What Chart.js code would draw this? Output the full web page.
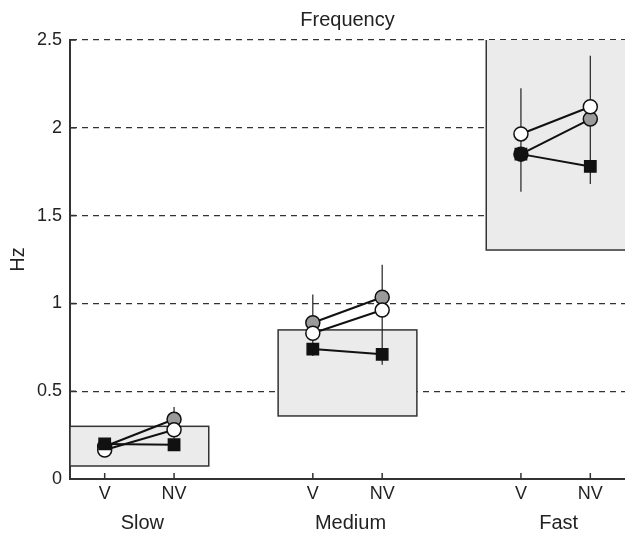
<!DOCTYPE html>
<html>
<head>
<meta charset="utf-8">
<script src="https://cdn.jsdelivr.net/npm/chart.js@4/dist/chart.umd.min.js"></script>
<style>
  html, body { margin: 0; padding: 0; background: #fff; }
  #wrap { width: 625px; height: 535px; }
</style>
</head>
<body>
<div id="wrap"><canvas id="chart"></canvas></div>
<script>
// condition positions on the x axis (V / NV inside each speed group)
const xPositions = [1, 2, 4, 5, 7, 8];
const xLabels = ['V', 'NV', 'V', 'NV', 'V', 'NV'];
const groupNames = ['Slow', 'Medium', 'Fast'];
const groupCenters = [1.5, 4.5, 7.5];
const yTicks = [0, 0.5, 1, 1.5, 2, 2.5];

// means for the three series
const greyValues = [0.185, 0.34, 0.89, 1.035, 1.85, 2.05];
const whiteValues = [0.165, 0.28, 0.83, 0.962, 1.965, 2.12];
const squareValues = [0.2, 0.195, 0.74, 0.71, 1.85, 1.78];

// error bar ends
const greyLow = [0.17, 0.27, 0.73, 0.85, 1.70, 1.69];
const greyHigh = [0.20, 0.41, 1.05, 1.22, 2.00, 2.41];
const whiteLow = [0.15, 0.23, 0.71, 0.76, 1.70, 1.87];
const whiteHigh = [0.18, 0.33, 0.95, 1.16, 2.225, 2.37];
const squareLow = [0.18, 0.17, 0.70, 0.65, 1.636, 1.68];
const squareHigh = [0.22, 0.22, 0.78, 0.77, 2.06, 1.88];

// grey background boxes (one per speed group)
const boxStart = [0.5, 3.5, 6.5];
const boxEnd = [2.5, 5.5, 8.8];
const boxLow = [0.074, 0.359, 1.304];
const boxHigh = [0.30, 0.849, 2.8];

const FONT = '"Liberation Sans", Arial, Helvetica, sans-serif';

// insert a null point between groups so lines only join V -> NV
function withGaps(values) {
    const pts = [];
    values.forEach((v, i) => {
        pts.push({ x: xPositions[i], y: v });
        if (i % 2 === 1 && i < values.length - 1) pts.push({ x: xPositions[i] + 1, y: null });
    });
    return pts;
}

const backdrop = {
    id: 'backdrop',
    beforeDatasetsDraw(chart) {
        const { ctx, chartArea: a, scales: { x, y } } = chart;
        ctx.save();
        ctx.beginPath();
        ctx.rect(a.left - 1, a.top, a.right - a.left + 1, a.bottom - a.top);
        ctx.clip();
        // boxes
        boxStart.forEach((s, i) => {
            const x0 = x.getPixelForValue(s), x1 = x.getPixelForValue(boxEnd[i]);
            const y0 = y.getPixelForValue(boxHigh[i]), y1 = y.getPixelForValue(boxLow[i]);
            ctx.fillStyle = '#ebebeb';
            ctx.fillRect(x0, y0, x1 - x0, y1 - y0);
            ctx.strokeStyle = '#333';
            ctx.lineWidth = 1.5;
            ctx.strokeRect(x0, y0, x1 - x0, y1 - y0);
        });
        ctx.restore();

        // inward tick marks
        ctx.save();
        ctx.strokeStyle = '#333';
        ctx.lineWidth = 1.5;
        ctx.beginPath();
        yTicks.forEach(t => {
            const py = y.getPixelForValue(t);
            ctx.moveTo(a.left, py);
            ctx.lineTo(a.left + 6, py);
        });
        xPositions.forEach(p => {
            const px = x.getPixelForValue(p);
            ctx.moveTo(px, a.bottom);
            ctx.lineTo(px, a.bottom - 6);
        });
        ctx.stroke();

        // error bars
        ctx.strokeStyle = '#222';
        ctx.lineWidth = 1.2;
        ctx.beginPath();
        [[greyLow, greyHigh], [whiteLow, whiteHigh], [squareLow, squareHigh]].forEach(([lo, hi]) => {
            xPositions.forEach((p, i) => {
                const px = x.getPixelForValue(p);
                ctx.moveTo(px, y.getPixelForValue(lo[i]));
                ctx.lineTo(px, y.getPixelForValue(hi[i]));
            });
        });
        ctx.stroke();
        ctx.restore();
    },
    afterDraw(chart) {
        const { ctx, chartArea: a, scales: { x } } = chart;
        ctx.save();
        ctx.fillStyle = '#222';
        ctx.textAlign = 'center';
        ctx.textBaseline = 'middle';
        ctx.font = '20px ' + FONT;
        ctx.fillText('Frequency', (a.left + a.right) / 2, 20);
        groupNames.forEach((g, i) => {
            ctx.fillText(g, x.getPixelForValue(groupCenters[i]) + 3, 523);
        });
        ctx.restore();
    }
};

const lineStyle = {
    borderColor: '#111',
    borderWidth: 2,
    pointBorderColor: '#111',
    pointBorderWidth: 1.5,
    spanGaps: false,
    tension: 0
};

new Chart(document.getElementById('chart'), {
    type: 'line',
    data: {
        datasets: [
            {
                ...lineStyle,
                label: 'grey',
                data: withGaps(greyValues),
                pointStyle: 'circle',
                pointRadius: 7,
                pointBackgroundColor: ctx => (ctx.raw && ctx.raw.x === 7) ? '#111' : '#9a9a9a',
                order: 3
            },
            {
                ...lineStyle,
                label: 'white',
                data: withGaps(whiteValues),
                pointStyle: 'circle',
                pointRadius: 7,
                pointBackgroundColor: '#fff',
                order: 2
            },
            {
                ...lineStyle,
                label: 'square',
                data: withGaps(squareValues),
                pointStyle: 'rect',
                pointRadius: 8,
                pointBackgroundColor: '#111',
                order: 1
            }
        ]
    },
    options: {
        responsive: true,
        maintainAspectRatio: false,
        animation: false,
        layout: { autoPadding: false, padding: { top: 40, right: 0, left: 0, bottom: 0 } },
        plugins: {
            legend: { display: false },
            tooltip: { enabled: false },
            title: { display: false }
        },
        scales: {
            x: {
                type: 'linear',
                min: 0.5,
                max: 8.5,
                afterBuildTicks: s => { s.ticks = xPositions.map(v => ({ value: v })); },
                afterFit: s => { s.height = 56; s.paddingLeft = 0; s.paddingRight = 0; },
                ticks: {
                    autoSkip: false,
                    maxRotation: 0,
                    padding: 4,
                    color: '#222',
                    font: { family: FONT, size: 18 },
                    callback: v => xLabels[xPositions.indexOf(v)]
                },
                grid: { display: false, drawTicks: false },
                border: { display: true, color: '#333', width: 2 }
            },
            y: {
                min: 0,
                max: 2.5,
                afterBuildTicks: s => { s.ticks = yTicks.map(v => ({ value: v })); },
                afterFit: s => { s.width = 70; s.paddingTop = 0; s.paddingBottom = 0; },
                ticks: {
                    padding: 8,
                    color: '#222',
                    font: { family: FONT, size: 18 },
                    callback: v => String(v)
                },
                grid: {
                    drawTicks: false,
                    lineWidth: 1.2,
                    color: ctx => (ctx.tick && ctx.tick.value === 0) ? 'rgba(0,0,0,0)' : '#333'
                },
                border: { display: true, color: '#333', width: 2, dash: [6, 5] },
                title: {
                    display: true,
                    text: 'Hz',
                    color: '#222',
                    font: { family: FONT, size: 20 },
                    padding: { top: 6, bottom: 0 }
                }
            }
        }
    },
    plugins: [backdrop]
});
</script>
</body>
</html>
